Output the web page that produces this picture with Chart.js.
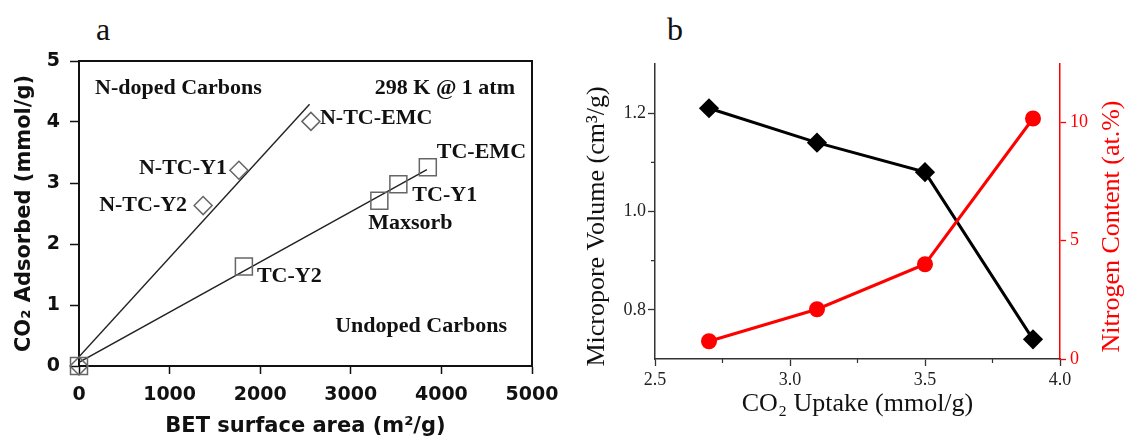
<!DOCTYPE html>
<html>
<head>
<meta charset="utf-8">
<script src="https://cdn.jsdelivr.net/npm/chart.js@4"></script>
<style>
    body { margin: 0; background: #fff; width: 1125px; height: 439px; position: relative; overflow: hidden; }
    .panel { position: absolute; top: 0; height: 439px; }
    #panel-a { left: 0; width: 560px; }
    #panel-b { left: 560px; width: 565px; }
    .letter { position: absolute; top: 11px; font: 32px 'Liberation Serif', serif; color: #111; }
</style>
</head>
<body>
<div class="letter" style="left:96px">a</div>
<div class="letter" style="left:667px">b</div>
<div class="panel" id="panel-a"><canvas id="chart-a"></canvas></div>
<div class="panel" id="panel-b"><canvas id="chart-b"></canvas></div>
<script>
// panel a: CO2 adsorbed vs BET surface area
const nDopedArea = [0, 1370, 1765, 2560];
const nDopedCO2 = [0, 2.63, 3.21, 4.01];
const nDopedNames = ['', 'N-TC-Y2', 'N-TC-Y1', 'N-TC-EMC'];
const undopedArea = [0, 1820, 3315, 3525, 3850];
const undopedCO2 = [0, 1.63, 2.71, 2.98, 3.26];
const undopedNames = ['', 'TC-Y2', 'Maxsorb', 'TC-Y1', 'TC-EMC'];
const nDopedFitArea = [0, 2545];
const nDopedFitCO2 = [0.15, 4.29];
const undopedFitArea = [0, 3840];
const undopedFitCO2 = [0.06, 3.22];

// panel b: micropore volume / nitrogen content vs CO2 uptake
const co2Uptake = [2.7, 3.1, 3.5, 3.9];
const microporeVolume = [1.21, 1.14, 1.08, 0.74];
const nitrogenContent = [0.75, 2.1, 4.0, 10.15];
const uptakeTicks = [2.5, 3.0, 3.5, 4.0];
const uptakeMinor = [2.75, 3.25, 3.75];
const volumeTicks = [0.8, 1.0, 1.2];
const volumeMinor = [0.9, 1.1];
const nitrogenTicks = [0, 5, 10];

const toPoints = (xs, ys) => xs.map((v, i) => ({x: v, y: ys[i]}));

// label placement next to each marker: dx, dy, align
const labelOffsets = {
    'N-TC-EMC': [9, -3, 'left'],
    'N-TC-Y1': [-12, -2, 'right'],
    'N-TC-Y2': [-16, 0, 'right'],
    'TC-EMC': [9, -15, 'left'],
    'TC-Y1': [14, 11, 'left'],
    'Maxsorb': [31, 23, 'center'],
    'TC-Y2': [13, 10, 'left']
};

const frameBox = {
    id: 'frameBox',
    afterDatasetsDraw(chart) {
        const {ctx, chartArea: a} = chart;
        ctx.save();
        ctx.strokeStyle = '#111';
        ctx.lineWidth = 2;
        ctx.beginPath();
        ctx.moveTo(a.left, a.top);
        ctx.lineTo(a.right, a.top);
        ctx.lineTo(a.right, a.bottom);
        ctx.stroke();
        ctx.restore();
    }
};

const sampleLabels = {
    id: 'sampleLabels',
    afterDraw(chart) {
        const {ctx, chartArea: a, scales: {x, y}} = chart;
        ctx.save();
        ctx.font = 'bold 22px "Liberation Serif"';
        ctx.fillStyle = '#111';
        ctx.textBaseline = 'middle';
        const put = (text, px, py, align) => {
            ctx.textAlign = align;
            ctx.fillText(text, px, py);
        };
        put('N-doped Carbons', a.left + 16, a.top + 27, 'left');
        put('298 K @ 1 atm', a.right - 17, a.top + 27, 'right');
        put('Undoped Carbons', a.right - 25, a.top + 265, 'right');

        const placeAll = (names, xs, ys) => {
            names.forEach((name, i) => {
                if (!name) return;
                const [dx, dy, align] = labelOffsets[name];
                put(name, x.getPixelForValue(xs[i]) + dx, y.getPixelForValue(ys[i]) + dy, align);
            });
        };
        placeAll(nDopedNames, nDopedArea, nDopedCO2);
        placeAll(undopedNames, undopedArea, undopedCO2);
        ctx.restore();
    }
};

// minor ticks plus both vertical titles (both read bottom to top)
const axisExtras = {
    id: 'axisExtras',
    afterDraw(chart) {
        const {ctx, chartArea: a, scales: {x, y}} = chart;
        ctx.save();
        ctx.strokeStyle = '#333';
        ctx.lineWidth = 1.2;
        ctx.beginPath();
        uptakeMinor.forEach((v) => {
            const px = x.getPixelForValue(v);
            ctx.moveTo(px, x.top);
            ctx.lineTo(px, x.top + 4);
        });
        volumeMinor.forEach((v) => {
            const py = y.getPixelForValue(v);
            ctx.moveTo(y.right, py);
            ctx.lineTo(y.right - 4, py);
        });
        ctx.stroke();

        const midY = (a.top + a.bottom) / 2 + 15;
        const vertical = (text, px, color) => {
            ctx.save();
            ctx.translate(px, midY);
            ctx.rotate(-Math.PI / 2);
            ctx.font = '26px "Liberation Serif"';
            ctx.fillStyle = color;
            ctx.textAlign = 'center';
            ctx.textBaseline = 'middle';
            ctx.fillText(text, 0, 0);
            ctx.restore();
        };
        vertical('Micropore Volume (cm³/g)', a.left - 58, '#111');
        vertical('Nitrogen Content (at.%)', a.right + 52, '#ff0000');
        ctx.restore();
    }
};

const sansBold = (size) => ({family: 'DejaVu Sans', weight: 'bold', size: size, lineHeight: 1.2});
const serif = (size) => ({family: 'Liberation Serif', size: size, lineHeight: 1.2});

new Chart(document.getElementById('chart-a'), {
    type: 'scatter',
    data: {
        datasets: [
            {
                data: toPoints(nDopedArea, nDopedCO2),
                pointStyle: 'rectRot',
                pointRadius: 9,
                borderColor: '#666',
                backgroundColor: 'rgba(0,0,0,0)',
                borderWidth: 1.5,
                clip: false
            },
            {
                data: toPoints(undopedArea, undopedCO2),
                pointStyle: 'rect',
                pointRadius: 12,
                borderColor: '#666',
                backgroundColor: 'rgba(0,0,0,0)',
                borderWidth: 1.5,
                clip: false
            },
            {
                data: toPoints(nDopedFitArea, nDopedFitCO2),
                showLine: true,
                pointRadius: 0,
                borderColor: '#222',
                borderWidth: 1.4
            },
            {
                data: toPoints(undopedFitArea, undopedFitCO2),
                showLine: true,
                pointRadius: 0,
                borderColor: '#222',
                borderWidth: 1.4
            }
        ]
    },
    options: {
        responsive: true,
        maintainAspectRatio: false,
        animation: false,
        layout: {padding: {top: 61, right: 28, bottom: 0, left: 0}},
        plugins: {legend: {display: false}, tooltip: {enabled: false}},
        scales: {
            x: {
                type: 'linear',
                min: 0,
                max: 5000,
                ticks: {stepSize: 1000, autoSkip: false, color: '#111', font: sansBold(19), padding: 10, maxRotation: 0, callback: (v) => String(v)},
                grid: {drawOnChartArea: false, tickLength: 8, color: '#111', tickWidth: 1.5},
                border: {color: '#111', width: 2},
                title: {display: true, text: 'BET surface area (m²/g)', color: '#111', font: sansBold(21), padding: 0},
                afterFit: (s) => {
                    s.height = 73;
                    s.paddingLeft = 0;
                    s.paddingRight = 0;
                }
            },
            y: {
                min: 0,
                max: 5,
                ticks: {stepSize: 1, color: '#111', font: sansBold(19), padding: 10},
                grid: {drawOnChartArea: false, tickLength: 9, color: '#111', tickWidth: 1.5},
                border: {color: '#111', width: 2},
                title: {display: true, text: 'CO₂ Adsorbed (mmol/g)', color: '#111', font: sansBold(21), padding: {top: 12, bottom: 0}},
                afterFit: (s) => { s.width = 79; }
            }
        }
    },
    plugins: [frameBox, sampleLabels]
});

new Chart(document.getElementById('chart-b'), {
    type: 'scatter',
    data: {
        datasets: [
            {
                data: toPoints(co2Uptake, nitrogenContent),
                yAxisID: 'y1',
                showLine: true,
                borderColor: '#ff0000',
                backgroundColor: '#ff0000',
                borderWidth: 3,
                pointStyle: 'circle',
                pointRadius: 6.5
            },
            {
                data: toPoints(co2Uptake, microporeVolume),
                yAxisID: 'y',
                showLine: true,
                borderColor: '#000',
                backgroundColor: '#000',
                borderWidth: 3,
                pointStyle: 'rectRot',
                pointRadius: 8
            }
        ]
    },
    options: {
        responsive: true,
        maintainAspectRatio: false,
        animation: false,
        layout: {padding: {top: 64, right: 0, bottom: 0, left: 0}},
        plugins: {legend: {display: false}, tooltip: {enabled: false}},
        scales: {
            x: {
                type: 'linear',
                min: 2.5,
                max: 4.0,
                afterBuildTicks: (s) => { s.ticks = uptakeTicks.map((v) => ({value: v})); },
                ticks: {color: '#222', font: serif(18), padding: 3, maxRotation: 0, callback: (v) => v.toFixed(1)},
                grid: {drawOnChartArea: false, tickLength: 7, color: '#333', tickWidth: 1.3},
                border: {color: '#333', width: 1.5},
                title: {display: true, text: 'CO₂ Uptake (mmol/g)', color: '#111', font: serif(26), padding: {top: 0, bottom: 19}},
                afterFit: (s) => { s.height = 80; }
            },
            y: {
                position: 'left',
                min: 0.7,
                max: 1.3,
                afterBuildTicks: (s) => { s.ticks = volumeTicks.map((v) => ({value: v})); },
                ticks: {color: '#222', font: serif(18), padding: 2, callback: (v) => v.toFixed(1)},
                grid: {drawOnChartArea: false, tickLength: 7, color: '#333', tickWidth: 1.3},
                border: {color: '#333', width: 1.5},
                afterFit: (s) => { s.width = 95; }
            },
            y1: {
                position: 'right',
                min: 0,
                max: 12.45,
                afterBuildTicks: (s) => { s.ticks = nitrogenTicks.map((v) => ({value: v})); },
                ticks: {color: '#ff0000', font: serif(18), padding: 4},
                grid: {drawOnChartArea: false, tickLength: 6, color: '#ff0000', tickWidth: 1.3},
                border: {color: '#ff0000', width: 1.5},
                afterFit: (s) => { s.width = 65; }
            }
        }
    },
    plugins: [axisExtras]
});
</script>
</body>
</html>
